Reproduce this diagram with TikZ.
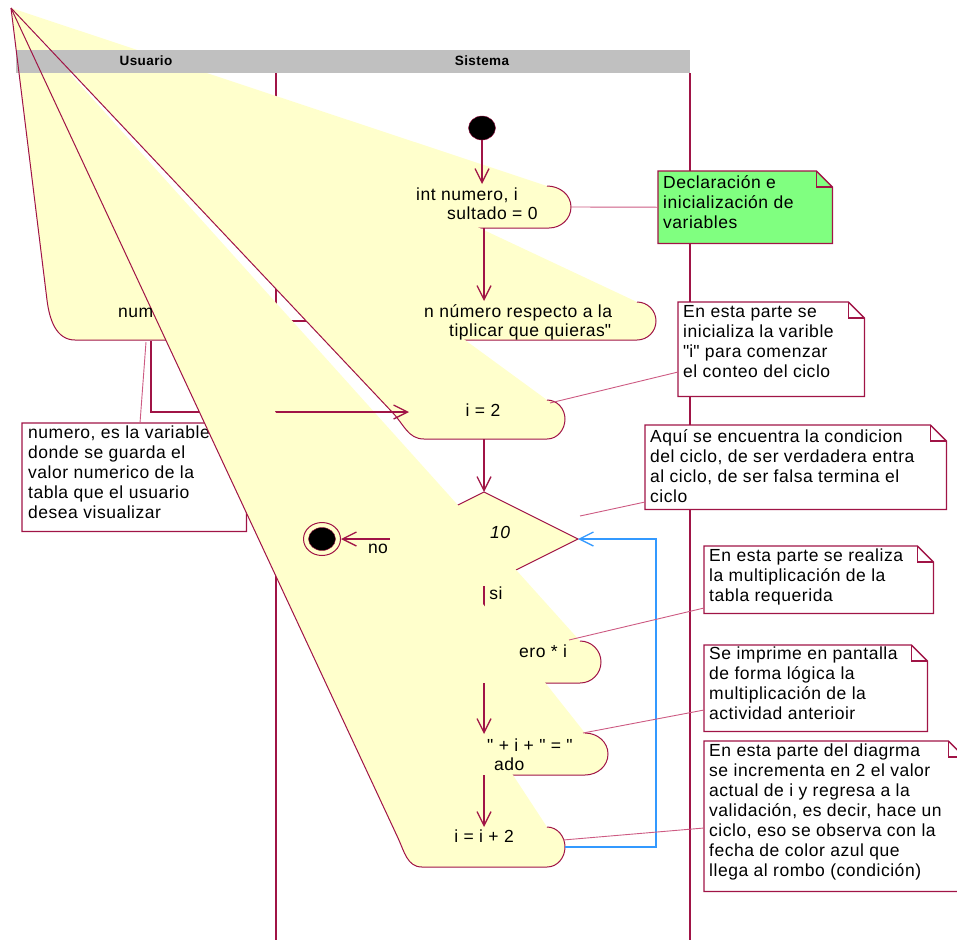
\documentclass[tikz,border=0pt]{standalone}
\usepackage{fontspec}
\setmainfont{Liberation Sans}[LetterSpace=3]
\usetikzlibrary{arrows.meta, shapes.geometric}

\definecolor{rosered}{RGB}{160,20,70}
\definecolor{rosepink}{RGB}{205,90,130}
\definecolor{roseyellow}{RGB}{255,255,204}
\definecolor{lanegray}{RGB}{192,192,192}
\definecolor{notegreen}{RGB}{128,255,128}
\definecolor{loopblue}{RGB}{51,153,255}

\begin{document}
\begin{tikzpicture}[
    x=1pt, y=-1pt,
    >={Straight Barb[length=14pt, width=14pt]},
    act/.style={fill=roseyellow},
    actline/.style={draw=rosered, line width=1pt},
    trans/.style={->, draw=rosered, line width=1.3pt},
    backflow/.style={->, draw=loopblue, line width=1.3pt},
    laneline/.style={draw=rosered, line width=1.5pt},
    note/.style={rectangle, anchor=north west, inner sep=0pt, fill=white},
    noteline/.style={draw=rosered, line width=1.3pt},
    noteanchor/.style={draw=rosepink, line width=0.9pt},
    txt/.style={font=\fontsize{17.5}{20}\selectfont, inner sep=0pt, text height=12.5pt, text depth=3.5pt},
    notetxt/.style={font=\fontsize{17.5}{20}\selectfont, inner sep=0pt, align=left, anchor=north west},
    lanehead/.style={font=\fontsize{13.5}{16}\selectfont\bfseries, inner sep=0pt},
    inist/.style={ellipse, draw=rosered, fill=black, minimum width=27pt, minimum height=24pt, inner sep=0pt},
    finst/.style={ellipse, draw=rosered, line width=1pt, minimum width=37pt, minimum height=33pt, inner sep=0pt},
    fincore/.style={ellipse, draw=rosered, fill=black, minimum width=27pt, minimum height=23pt, inner sep=0pt}
]
\useasboundingbox (0,0) rectangle (957,940);

\coordinate (apex) at (11,8);

% swimlanes
\draw[laneline] (276,73) -- (276,940);
\draw[laneline] (690,73) -- (690,940);

% declaracion
\fill[act] (apex) -- (547,186) to[out=0,in=90] (571,207) to[out=-90,in=0] (549,228) -- (341,228) -- cycle;
\draw[actline] (341,228) -- (549,228) to[out=0,in=-90] (571,207) to[out=90,in=0] (547,186);

% pide el numero
\fill[act] (apex) -- (637,302) to[out=0,in=90] (656,321) to[out=-90,in=0] (637,340) -- (376,340) -- cycle;
\draw[actline] (376,340) -- (637,340) to[out=0,in=-90] (656,321) to[out=90,in=0] (637,302);

% numero (Usuario)
\fill[act] (apex) -- (240,300) to[out=0,in=90] (262,320) to[out=-90,in=0] (240,340) -- (75,340) to[out=180,in=-83] (47,300) -- cycle;
\draw[actline] (47,300) to[out=-83,in=180] (75,340) -- (240,340) to[out=0,in=-90] (262,320) to[out=90,in=0] (240,300);

\coordinate (pideW) at (420,321);
\coordinate (leerE) at (262,321);
\draw[trans] (pideW) -- (leerE);

% i = 2
\fill[act] (apex) -- (547,400) to[out=0,in=90] (565,419) to[out=-90,in=0] (547,439) -- (424,439) to[out=180,in=-46.7] (393,413) -- cycle;
\draw[actline] (393,413) to[out=-46.7,in=180] (424,439) -- (547,439) to[out=0,in=-90] (565,419) to[out=90,in=0] (547,400);

% rombo
\coordinate (dtop) at (484,492);
\coordinate (dright) at (578,539);
\coordinate (dbot) at (484,586);
\coordinate (dleft) at (390,539);
\filldraw[act, actline] (dtop) -- (dright) -- (dbot) -- (dleft) -- cycle;

% resultado = numero * i
\fill[act] (apex) -- (580,641) to[out=0,in=90] (601,662) to[out=-90,in=0] (580,683) -- (382,683) -- cycle;
\draw[actline] (382,683) -- (580,683) to[out=0,in=-90] (601,662) to[out=90,in=0] (580,641);

\coordinate (multN) at (484,641);
\draw[trans] (dbot) -- (multN);

% impresion
\fill[act] (apex) -- (585,733) to[out=0,in=90] (608,754) to[out=-90,in=0] (585,775) -- (471,775) -- cycle;
\draw[actline] (471,775) -- (585,775) to[out=0,in=-90] (608,754) to[out=90,in=0] (585,733);

\coordinate (leerS) at (151,341);
\coordinate (inicioW) at (409,412);
\draw[trans] (leerS) |- (inicioW);

% nota de numero
\node[note, minimum width=224pt, minimum height=108pt] (varnote) at (22,423) {};
\draw[noteline] (varnote.north west) -- ([xshift=-16pt]varnote.north east) -- ([yshift=-16pt]varnote.north east) -- (varnote.south east) -- (varnote.south west) -- cycle;
\node[notetxt] (vartxt) at (28,426) {numero, es la variable\\donde se guarda el\\valor numerico de la\\tabla que el usuario\\desea visualizar};
\coordinate (leerNota) at (146,342);
\draw[noteanchor] (leerNota) -- (varnote.north -| 140,0);

% i = i + 2
\fill[act] (apex) -- (547,827) to[out=0,in=90] (565,847) to[out=-90,in=0] (547,867) -- (422,867) to[out=180,in=-65] (398,838) -- cycle;
\draw[actline] (398,838) to[out=-65,in=180] (422,867) -- (547,867) to[out=0,in=-90] (565,847) to[out=90,in=0] (547,827);

% encabezado
\fill[lanegray] (16,50) rectangle (690,73);
\node[lanehead] (usuario) at (146,61) {Usuario};
\node[lanehead] (sistema) at (482,61) {Sistema};

\draw[actline] (apex) -- (47,300);
\draw[actline] (apex) -- (393,413);
\draw[actline] (apex) -- (398,838);

% estados
\node[inist] (ini) at (482,128) {};
\node[finst] (fin) at (322,539) {};
\node[fincore] (fincore) at (322,539) {};

% transiciones
\coordinate (declN) at (482,184);
\coordinate (declS) at (484,228);
\coordinate (pideN) at (484,301);
\coordinate (inicioS) at (484,439);
\coordinate (multS) at (484,683);
\coordinate (imprN) at (484,734);
\coordinate (imprS) at (484,775);
\coordinate (incrN) at (484,827);
\coordinate (incrE) at (565,847);
\coordinate (vuelta) at (656,847);
\draw[trans] (ini) -- (declN);
\draw[trans] (declS) -- (pideN);
\draw[trans] (inicioS) -- (dtop);
\draw[trans] (dleft) -- (fin);
\draw[trans] (multS) -- (imprN);
\draw[trans] (imprS) -- (incrN);
\draw[backflow] (incrE) -- (vuelta) |- (dright);

% textos de actividades
\node[txt, anchor=west] (decl1) at (416,196) {int numero, i};
\node[txt, anchor=west] (decl2) at (447,215) {sultado = 0};
\node[txt, anchor=west] (pide1) at (424,313) {n número respecto a la};
\node[txt, anchor=west] (pide2) at (449,332) {tiplicar que quieras\textquotedbl};
\node[txt, anchor=west] (leer) at (118,313) {num};
\node[txt] (inicio) at (483,412) {i = 2};
\node[txt, font=\fontsize{17.5}{20}\selectfont\itshape] (cond) at (500,534) {10};
\node[txt] (no) at (378,549) {no};
\node[txt] (si) at (496,595) {si};
\node[txt, anchor=west] (mult) at (519,653) {ero * i};
\node[txt, anchor=west] (impr1) at (487,747) {\textquotedbl{} + i + \textquotedbl{} = \textquotedbl};
\node[txt, anchor=west] (impr2) at (494,766) {ado};
\node[txt] (incr) at (484,838) {i = i + 2};

% notas
\node[note, fill=notegreen, minimum width=174pt, minimum height=72pt] (declnote) at (658,171) {};
\fill[white] ([xshift=-16pt]declnote.north east) -- ([xshift=1pt,yshift=1pt]declnote.north east) -- ([yshift=-16pt]declnote.north east) -- cycle;
\draw[noteline] (declnote.north west) -- ([xshift=-16pt]declnote.north east) -- ([yshift=-16pt]declnote.north east) -- (declnote.south east) -- (declnote.south west) -- cycle;
\draw[noteline] ([xshift=-16pt]declnote.north east) |- ([yshift=-16pt]declnote.north east);
\node[notetxt] (decltxt) at (663,175) {Declaración e\\inicialización de\\variables};
\coordinate (declE) at (571,207);
\draw[noteanchor] (declE) -- (declnote.west);

\node[note, minimum width=186pt, minimum height=94pt] (inicionote) at (678,302) {};
\draw[noteline] (inicionote.north west) -- ([xshift=-16pt]inicionote.north east) -- ([yshift=-16pt]inicionote.north east) -- (inicionote.south east) -- (inicionote.south west) -- cycle;
\draw[noteline] ([xshift=-16pt]inicionote.north east) |- ([yshift=-16pt]inicionote.north east);
\node[notetxt] (iniciotxt) at (683,305) {En esta parte se\\inicializa la varible\\\textquotedbl i\textquotedbl{} para comenzar\\el conteo del ciclo};
\coordinate (inicioE) at (550,403);
\coordinate (inicioNota) at (678,372);
\draw[noteanchor] (inicioE) -- (inicioNota);

\node[note, minimum width=301pt, minimum height=84pt] (condnote) at (645,425) {};
\draw[noteline] (condnote.north west) -- ([xshift=-16pt]condnote.north east) -- ([yshift=-16pt]condnote.north east) -- (condnote.south east) -- (condnote.south west) -- cycle;
\draw[noteline] ([xshift=-16pt]condnote.north east) |- ([yshift=-16pt]condnote.north east);
\node[notetxt] (condtxt) at (650,429) {Aquí se encuentra la condicion\\del ciclo, de ser verdadera entra\\al ciclo, de ser falsa termina el\\ciclo};
\coordinate (condE) at (580,516);
\coordinate (condNota) at (645,502);
\draw[noteanchor] (condE) -- (condNota);

\node[note, minimum width=229pt, minimum height=67pt] (multnote) at (704,546) {};
\draw[noteline] (multnote.north west) -- ([xshift=-16pt]multnote.north east) -- ([yshift=-16pt]multnote.north east) -- (multnote.south east) -- (multnote.south west) -- cycle;
\draw[noteline] ([xshift=-16pt]multnote.north east) |- ([yshift=-16pt]multnote.north east);
\node[notetxt] (multtxt) at (709,549) {En esta parte se realiza\\la multiplicación de la\\tabla requerida};
\coordinate (multE) at (569,640);
\coordinate (multNota) at (704,608);
\draw[noteanchor] (multE) -- (multNota);

\node[note, minimum width=223pt, minimum height=86pt] (imprnote) at (704,645) {};
\draw[noteline] (imprnote.north west) -- ([xshift=-16pt]imprnote.north east) -- ([yshift=-16pt]imprnote.north east) -- (imprnote.south east) -- (imprnote.south west) -- cycle;
\draw[noteline] ([xshift=-16pt]imprnote.north east) |- ([yshift=-16pt]imprnote.north east);
\node[notetxt] (imprtxt) at (709,647) {Se imprime en pantalla\\de forma lógica la\\multiplicación de la\\actividad anterioir};
\coordinate (imprE) at (583,733);
\coordinate (imprNota) at (704,710);
\draw[noteanchor] (imprE) -- (imprNota);

\node[note, minimum width=260pt, minimum height=150pt] (incrnote) at (704,741) {};
\draw[noteline] (incrnote.north west) -- ([xshift=-16pt]incrnote.north east) -- ([yshift=-16pt]incrnote.north east) -- (incrnote.south east) -- (incrnote.south west) -- cycle;
\draw[noteline] ([xshift=-16pt]incrnote.north east) |- ([yshift=-16pt]incrnote.north east);
\node[notetxt] (incrtxt) at (709,744) {En esta parte del diagrma\\se incrementa en 2 el valor\\actual de i y regresa a la\\validación, es decir, hace un\\ciclo, eso se observa con la\\fecha de color azul que\\llega al rombo (condición)};
\coordinate (incrNotaE) at (563,840);
\coordinate (incrNota) at (704,828);
\draw[noteanchor] (incrNotaE) -- (incrNota);

\end{tikzpicture}
\end{document}
